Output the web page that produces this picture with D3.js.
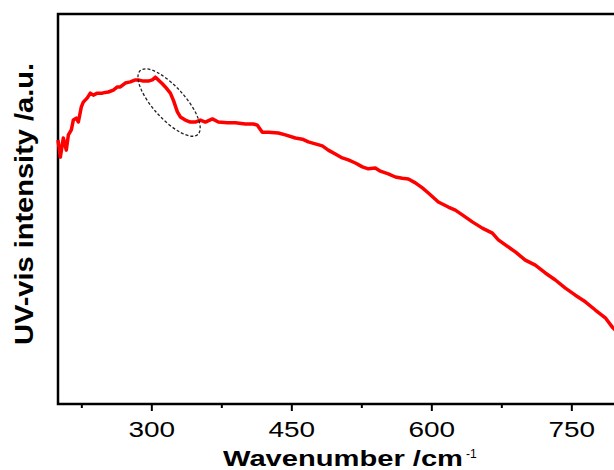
<!DOCTYPE html>
<html>
<head>
<meta charset="utf-8">
<script src="https://cdn.jsdelivr.net/npm/d3@7"></script>
<style>
body { margin: 0; background: #fff; }
svg { display: block; overflow: hidden; }
</style>
</head>
<body>
<script>
// wavenumber (cm-1) and intensity (a.u.)
var wavenumber = [200, 202.5, 205.7, 208.9, 211.1, 214.3, 216.4, 219.6, 221.8, 225, 227.1, 231.4, 234.6, 237.9,
    242.1, 247.5, 250.7, 253.9, 259.3, 263.6, 266.8, 272.1, 277.5, 282.9, 286.1, 291.4, 296.8, 301.1, 304.3,
    307.5, 311.8, 315, 320.4, 323.6, 327.9, 331.1, 336.4, 341.8, 347.1, 352.5, 357.9, 365.4, 371.8, 381.4,
    390, 400.7, 409.3, 413.6, 418.9, 425.4, 436.1, 443.6, 454.3, 461.8, 468.2, 475.7, 483.2, 489.6, 497.1,
    504.6, 511.1, 518.6, 526.1, 532.5, 540, 545.4, 553.9, 561.4, 568.9, 575.4, 582.9, 590.4, 596.8, 607.5,
    618.2, 625.7, 633.2, 643.9, 654.6, 665.4, 671.8, 679.3, 690, 700.7, 711.4, 722.1, 732.9, 743.6, 754.3,
    765, 775.7, 786.4, 793.9, 797];
var intensity = [67.7, 63.3, 68.2, 65.1, 69.0, 70.3, 72.8, 73.3, 72.3, 76.2, 77.4, 78.5, 79.7, 79.2,
    79.7, 79.7, 79.9, 80.0, 80.5, 81.3, 81.3, 82.3, 82.6, 83.1, 83.1, 82.8, 82.8, 83.1, 83.8,
    83.1, 82.1, 81.3, 79.7, 77.9, 74.9, 73.6, 72.8, 72.3, 72.3, 72.8, 72.3, 73.1, 72.3, 72.1,
    72.1, 71.8, 71.8, 71.5, 69.7, 69.7, 69.5, 69.0, 68.2, 67.9, 67.2, 66.7, 66.2, 65.1, 64.1,
    63.1, 62.6, 61.8, 60.8, 60.3, 60.5, 59.7, 59.0, 58.2, 57.9, 57.7, 56.7, 55.4, 54.1, 51.8,
    50.5, 49.7, 48.5, 46.7, 45.1, 43.8, 42.1, 40.8, 39.0, 36.9, 35.6, 33.6, 31.8, 29.7, 27.9,
    26.2, 24.1, 22.1, 19.7, 19.0];
var majorTicks = [300, 450, 600, 750];
var minorTicks = [225, 375, 525, 675];

var w = 614;
var h = 470;
// note: "top" is taken by window.top, so use other names
var plotLeft = 58, plotTop = 14, plotBottom = 404;

var svg = d3.select("body").append("svg")
            .attr("width", w)
            .attr("height", h);

var x = d3.scaleLinear().domain([200, 800]).range([plotLeft, plotLeft + 600 * 140 / 150]);
var y = d3.scaleLinear().domain([0, 100]).range([plotBottom, plotTop]);

// minor ticks first, then major ones with labels
var xMinor = svg.append("g")
    .attr("transform", "translate(0," + plotBottom + ")")
    .call(d3.axisBottom(x).tickValues(minorTicks).tickSize(4).tickFormat(""));
xMinor.select(".domain").remove();
xMinor.selectAll("line").attr("stroke-width", 2);

var xAxis = svg.append("g")
    .attr("transform", "translate(0," + plotBottom + ")")
    .call(d3.axisBottom(x).tickValues(majorTicks).tickSize(7).tickFormat(d3.format("d")));
xAxis.select(".domain").remove();
xAxis.selectAll("line").attr("stroke-width", 2);
xAxis.selectAll("text")
    .attr("y", 33)
    .attr("dy", 0)
    .attr("fill", "#000")
    .attr("font-family", "Arial, 'Liberation Sans', sans-serif")
    .attr("font-size", "22px")
    .attr("transform", "scale(1.27,1)");

// frame
svg.append("rect")
    .attr("x", x(200))
    .attr("y", plotTop)
    .attr("width", x(800) - x(200))
    .attr("height", plotBottom - plotTop)
    .attr("fill", "none")
    .attr("stroke", "#000")
    .attr("stroke-width", 2.5);

var line = d3.line()
    .x(function(d, i) { return x(wavenumber[i]); })
    .y(function(d) { return y(d); });

svg.append("path")
    .datum(intensity)
    .attr("d", line)
    .attr("fill", "none")
    .attr("stroke", "#ff0000")
    .attr("stroke-width", 3.5)
    .attr("stroke-linejoin", "round");

// dashed ellipse round the shoulder near 320 cm-1
svg.append("ellipse")
    .attr("transform", "translate(" + x(319) + "," + y(77.3) + ") rotate(48)")
    .attr("rx", 43)
    .attr("ry", 16)
    .attr("fill", "none")
    .attr("stroke", "#222")
    .attr("stroke-width", 1.3)
    .attr("stroke-dasharray", "3,2");

svg.append("text")
    .text("Wavenumber /cm")
    .attr("x", 223)
    .attr("y", 466)
    .attr("textLength", 240)
    .attr("lengthAdjust", "spacingAndGlyphs")
    .attr("font-family", "Arial, 'Liberation Sans', sans-serif")
    .attr("font-weight", "bold")
    .attr("font-size", "22px");

svg.append("text")
    .text("-1")
    .attr("x", 466)
    .attr("y", 458)
    .attr("font-family", "Arial, 'Liberation Sans', sans-serif")
    .attr("font-size", "12px");

svg.append("text")
    .text("UV-vis intensity /a.u.")
    .attr("transform", "translate(33,204) rotate(-90)")
    .attr("text-anchor", "middle")
    .attr("textLength", 282)
    .attr("lengthAdjust", "spacingAndGlyphs")
    .attr("font-family", "Arial, 'Liberation Sans', sans-serif")
    .attr("font-weight", "bold")
    .attr("font-size", "25px");
</script>
</body>
</html>
